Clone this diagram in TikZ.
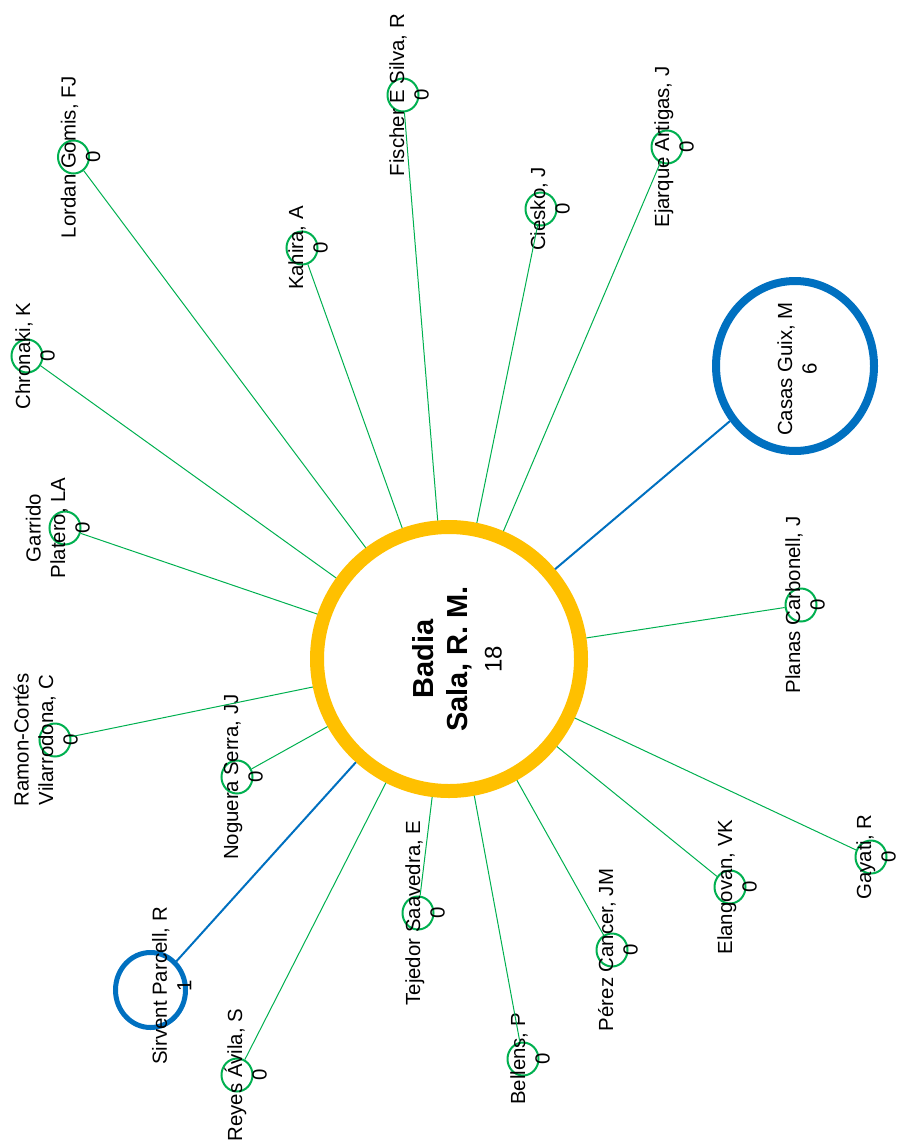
\documentclass[tikz,border=0pt]{standalone}
\usepackage{fontspec}
\setmainfont{Liberation Sans}
\usetikzlibrary{shapes.geometric}
\definecolor{hubgold}{HTML}{FFC000}
\definecolor{leafgreen}{HTML}{00B050}
\definecolor{coblue}{HTML}{0070C0}

\begin{document}
\begin{tikzpicture}[x=1pt,y=-1pt,
  hubnode/.style={ellipse, draw=hubgold, line width=14pt, minimum width=264pt, minimum height=264pt, inner sep=0pt},
  bnode/.style={ellipse, draw=coblue, inner sep=0pt},
  gnode/.style={ellipse, draw=leafgreen, line width=2pt, minimum width=31pt, minimum height=33pt, inner sep=0pt},
  gtext/.style={rotate=90, anchor=south, inner sep=0pt, align=center, font=\fontsize{20.4}{24.5}\selectfont},
  glink/.style={draw=leafgreen, line width=1pt},
  blink/.style={draw=coblue, line width=2pt}]
\useasboundingbox (0,0) rectangle (899,1145);

% central author
\node[hubnode] (hub) at (449,659) {};
\node[rotate=90, anchor=south, inner sep=0pt, align=center, font=\fontsize{29}{34}\selectfont]
  (hub-t) at ([xshift=53pt]hub.center) {{\bfseries Badia}\\{\bfseries Sala, R. M.}\\{\fontsize{24}{34}\selectfont 18}};

% co-authors with shared work
\node[bnode, line width=8pt, minimum width=158pt, minimum height=170pt] (casas) at (795,366) {};
\node[gtext] (casas-t) at ([xshift=22pt,yshift=-3pt]casas.center) {Casas Guix, M\\6};
\node[bnode, line width=5pt, minimum width=70pt, minimum height=75pt] (sirvent) at (150.5,990) {};
\node[gtext] (sirvent-t) at ([xshift=41pt,yshift=4pt]sirvent.center) {Sirvent Parcell, R\\1};

% single co-authors
\node[gnode] (lordan) at (73.5,157) {};
\node[gnode] (fischer) at (403,95) {};
\node[gnode] (kahira) at (302,248) {};
\node[gnode] (chronaki) at (27,356) {};
\node[gnode] (ciesko) at (541,209) {};
\node[gnode] (ejarque) at (667,147) {};
\node[gnode] (planas) at (801,605) {};
\node[gnode] (garrido) at (65,528) {};
\node[gnode] (ramon) at (55,740) {};
\node[gnode] (noguera) at (237,777) {};
\node[gnode] (tejedor) at (418,913) {};
\node[gnode] (reyes) at (237,1075) {};
\node[gnode] (bellens) at (523,1059) {};
\node[gnode] (perez) at (612,950) {};
\node[gnode] (elangovan) at (730,887) {};
\node[gnode] (gayati) at (871,857) {};

\node[gtext] (lordan-t) at ([xshift=27pt]lordan.center) {Lordan Gomis, FJ\\0};
\node[gtext] (fischer-t) at ([xshift=26pt]fischer.center) {Fischer E Silva, R\\0};
\node[gtext] (kahira-t) at ([xshift=26pt]kahira.center) {Kahira, A\\0};
\node[gtext] (chronaki-t) at ([xshift=28pt]chronaki.center) {Chronaki, K\\0};
\node[gtext] (ciesko-t) at ([xshift=29pt]ciesko.center) {Ciesko, J\\0};
\node[gtext] (ejarque-t) at ([xshift=27pt]ejarque.center) {Ejarque Artigas, J\\0};
\node[gtext] (planas-t) at ([xshift=24pt]planas.center) {Planas Carbonell, J\\0};
\node[gtext] (garrido-t) at ([xshift=25pt]garrido.center) {Garrido\\Platero, LA\\0};
\node[gtext] (ramon-t) at ([xshift=23pt]ramon.center) {Ramon-Cortés\\Vilarrodona, C\\0};
\node[gtext] (noguera-t) at ([xshift=26pt]noguera.center) {Noguera Serra, JJ\\0};
\node[gtext] (tejedor-t) at ([xshift=27pt]tejedor.center) {Tejedor Saavedra, E\\0};
\node[gtext] (reyes-t) at ([xshift=30pt]reyes.center) {Reyes Ávila, S\\0};
\node[gtext] (bellens-t) at ([xshift=27pt]bellens.center) {Bellens, P\\0};
\node[gtext] (perez-t) at ([xshift=26pt]perez.center) {Pérez Cancer, JM\\0};
\node[gtext] (elangovan-t) at ([xshift=27pt]elangovan.center) {Elangovan, VK\\0};
\node[gtext] (gayati-t) at ([xshift=25pt]gayati.center) {Gayati, R\\0};

% links to the central author
\draw[blink] (hub) -- (casas);
\draw[blink] (hub) -- (sirvent);
\foreach \n in {lordan,fischer,kahira,chronaki,ciesko,ejarque,planas,garrido,ramon,noguera,tejedor,reyes,bellens,perez,elangovan,gayati}
  \draw[glink] (hub) -- (\n);
\end{tikzpicture}
\end{document}
